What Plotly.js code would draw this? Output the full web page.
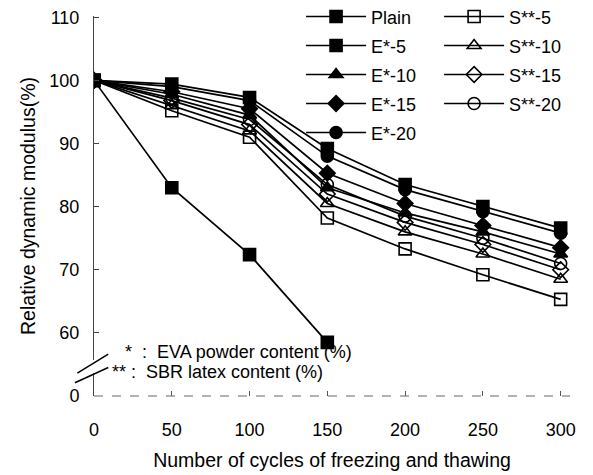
<!DOCTYPE html>
<html>
<head>
<meta charset="utf-8">
<script src="https://cdn.plot.ly/plotly-3.0.1.min.js"></script>
<style>html,body{margin:0;padding:0;background:#fff;}#chart{width:593px;height:475px;}</style>
</head>
<body>
<div id="chart"></div>
<script>
// ---- data ----
const cycles = [0, 50, 100, 150, 200, 250, 300];
const plainCycles = [0, 50, 100, 150];
const plain = [100, 83.0, 72.4, 58.5];
const e5  = [100, 99.4, 97.3, 89.2, 83.5, 80.0, 76.6];
const e10 = [100, 97.8, 94.5, 83.0, 79.0, 76.0, 72.5];
const e15 = [100, 98.2, 95.5, 85.3, 80.5, 77.0, 73.5];
const e20 = [100, 99.0, 96.8, 88.0, 82.7, 79.2, 75.8];
const s5  = [100, 95.2, 91.0, 78.2, 73.3, 69.2, 65.3];
const s10 = [100, 96.0, 92.0, 80.5, 76.0, 72.5, 68.5];
const s15 = [100, 96.8, 93.0, 82.0, 77.5, 74.0, 70.0];
const s20 = [100, 97.2, 93.8, 83.5, 78.5, 75.0, 71.0];
const yTickVals = [50, 60, 70, 80, 90, 100, 110];
const yTickText = ['0', '60', '70', '80', '90', '100', '110'];
const xTickVals = [0, 50, 100, 150, 200, 250, 300];

const FONT = 'Liberation Sans, Arial, sans-serif';
const nm = t => '<span style="font-size:18px">' + t + '</span>';

function tr(x, y, name, symbol, size, legend) {
  return {
    x: x, y: y, name: nm(name), type: 'scatter', mode: 'lines+markers',
    line: {color: '#000', width: 1.7},
    marker: {symbol: symbol, size: size, color: '#000', line: {color: '#000', width: 1.6}},
    legend: legend, hoverinfo: 'skip'
  };
}

const data = [
  tr(plainCycles, plain, 'Plain', 'square', 12, 'legend'),
  tr(cycles, e5,  'E*-5',  'square', 12, 'legend'),
  tr(cycles, e10, 'E*-10', 'triangle-up', 12, 'legend'),
  tr(cycles, e15, 'E*-15', 'diamond', 12, 'legend'),
  tr(cycles, e20, 'E*-20', 'circle', 12, 'legend'),
  tr(cycles, s5,  'S**-5',  'square-open', 12, 'legend2'),
  tr(cycles, s10, 'S**-10', 'triangle-up-open', 12, 'legend2'),
  tr(cycles, s15, 'S**-15', 'diamond-open', 12, 'legend2'),
  tr(cycles, s20, 'S**-20', 'circle-open', 12, 'legend2')
];

const legendBase = {
  yanchor: 'top', xanchor: 'left', y: 1.05,
  bgcolor: 'rgba(0,0,0,0)', borderwidth: 0,
  font: {family: FONT, size: 20, color: '#000'},
  itemwidth: 60, tracegroupgap: 0
};

const layout = {
  width: 593, height: 475,
  margin: {l: 94, r: 23, t: 16, b: 79, autoexpand: false},
  paper_bgcolor: '#fff', plot_bgcolor: '#fff',
  font: {family: FONT, color: '#000'},
  showlegend: true,
  legend: Object.assign({}, legendBase, {x: 0.435}),
  legend2: Object.assign({}, legendBase, {x: 0.725}),
  xaxis: {
    range: [0, 306], showgrid: false, zeroline: false,
    showline: false,
    tickvals: xTickVals, ticks: 'inside', ticklen: 5, tickcolor: '#555',
    ticklabelstandoff: 21,
    tickfont: {family: FONT, size: 18, color: '#000'},
    title: {text: 'Number of cycles of freezing and thawing', font: {family: FONT, size: 19.5, color: '#000'}, standoff: 14}
  },
  yaxis: {
    range: [50, 110.2], showgrid: false, zeroline: false,
    showline: true, linecolor: '#444', linewidth: 1,
    tickvals: yTickVals, ticktext: yTickText,
    ticks: 'inside', ticklen: 5, tickcolor: '#444',
    ticklabelstandoff: 10,
    tickfont: {family: FONT, size: 18, color: '#000'},
    title: {text: 'Relative dynamic modulus(%)', font: {family: FONT, size: 19.5, color: '#000'}, standoff: 8}
  },
  shapes: [
    {type: 'line', xref: 'paper', yref: 'paper', x0: 0, x1: 1, y0: 0, y1: 0,
     line: {color: '#666', width: 1, dash: 'dash'}},
    {type: 'rect', xref: 'paper', yref: 'paper', x0: -0.01, x1: 0.01, y0: 0.06, y1: 0.095,
     fillcolor: '#fff', line: {width: 0}},
    {type: 'line', xref: 'paper', yref: 'paper', x0: -0.035, x1: 0.03, y0: 0.06, y1: 0.11,
     line: {color: '#000', width: 1.5}},
    {type: 'line', xref: 'paper', yref: 'paper', x0: -0.04, x1: 0.03, y0: 0.035, y1: 0.075,
     line: {color: '#000', width: 1.5}}
  ],
  annotations: [
    {xref: 'paper', yref: 'paper', x: (123 - 94) / 476, y: (396 - 352) / 380, xanchor: 'left', yanchor: 'middle',
     text: '*  :  EVA powder content (%)', showarrow: false, font: {family: FONT, size: 18, color: '#000'}},
    {xref: 'paper', yref: 'paper', x: (110 - 94) / 476, y: (396 - 372) / 380, xanchor: 'left', yanchor: 'middle',
     text: '** :  SBR latex content (%)', showarrow: false, font: {family: FONT, size: 18, color: '#000'}}
  ]
};

Plotly.newPlot('chart', data, layout, {staticPlot: true, displayModeBar: false});
</script>
</body>
</html>
